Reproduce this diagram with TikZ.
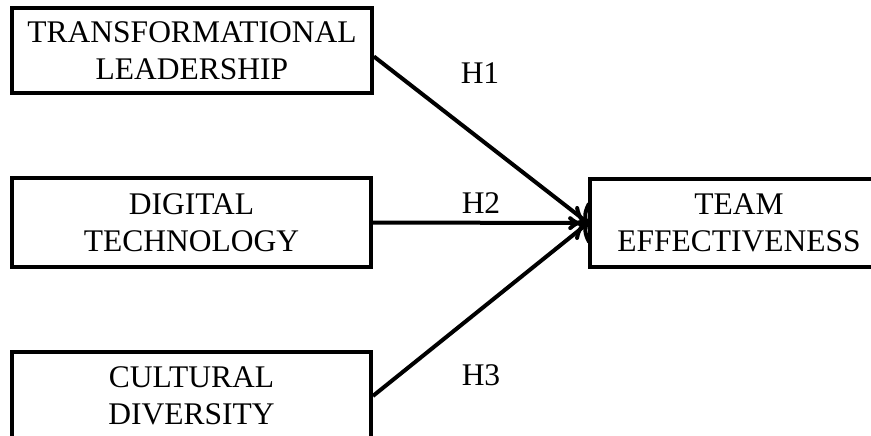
\documentclass[tikz,border=0pt]{standalone}
\usepackage{fontspec}
\setmainfont{Liberation Serif}
\usetikzlibrary{positioning,arrows.meta}

\begin{document}
\begin{tikzpicture}[
    x=1pt, y=-1pt,
    var/.style={rectangle, draw, line width=3.8pt, align=center, inner sep=0pt,
        font=\fontsize{31.5}{37}\selectfont},
    arrow/.style={-{Computer Modern Rightarrow[length=13pt,width=34pt]}, line width=4pt},
    hyp/.style={font=\fontsize{31.5}{37}\selectfont}
]
\useasboundingbox (0,0) rectangle (871,436);

% Predictors
\node[var, minimum width=360pt, minimum height=85pt] (translead) at (192,50.5) {TRANSFORMATIONAL\\LEADERSHIP};
\node[var, minimum width=359pt, minimum height=89pt] (digtech) at (191.5,222.5) {DIGITAL\\TECHNOLOGY};
\node[var, minimum width=359pt, minimum height=88pt] (culdiv) at (191.5,396) {CULTURAL\\DIVERSITY};

% Outcome
\node[var, minimum width=298pt, minimum height=88pt] (teameff) at (739,223) {TEAM\\EFFECTIVENESS};

% Paths
\draw[arrow] ([yshift=-6pt]translead.east) -- (teameff.west);
\draw[arrow] (digtech.east) -- (teameff.west);
\draw[arrow] (culdiv.east) -- (teameff.west);

% Hypotheses
\node[hyp] (h1) at (480,73) {H1};
\node[hyp] (h2) at (481,203) {H2};
\node[hyp] (h3) at (481,375) {H3};

\end{tikzpicture}
\end{document}
